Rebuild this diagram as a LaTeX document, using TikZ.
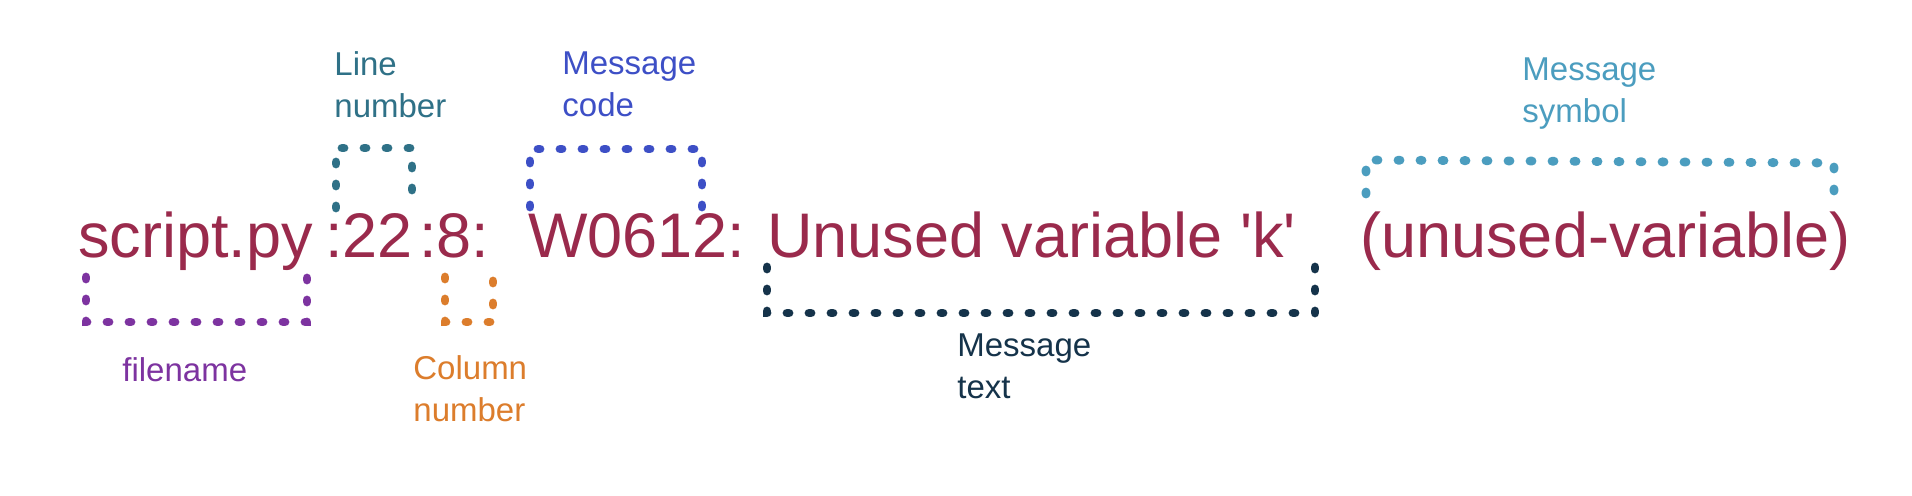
\documentclass[tikz,border=0pt]{standalone}
\usepackage{fontspec}
\setmainfont{Liberation Sans}
\definecolor{maintext}{HTML}{9A2A4C}
\definecolor{linenumc}{HTML}{2F7187}
\definecolor{msgcodec}{HTML}{3D4FC6}
\definecolor{msgsymc}{HTML}{4B9DBF}
\definecolor{filenamec}{HTML}{7D33A0}
\definecolor{columnc}{HTML}{DC7D2C}
\definecolor{msgtextc}{HTML}{15334A}
\begin{document}
\begin{tikzpicture}[x=0.5pt,y=-0.5pt,
  seg/.style={anchor=base west, inner sep=0pt, text=maintext, font=\fontsize{31.5}{36}\selectfont},
  lbl/.style={anchor=base west, inner sep=0pt, align=left, font=\fontsize{16.5}{21}\selectfont},
  dots/.style={line width=4.4pt, line cap=round, dash pattern=on 1pt off 10pt}]
\fill[white] (0,0) rectangle (1912,496);
\path[use as bounding box] (0,0) rectangle (1912,496);

% main message, split at the annotated parts
\node[seg] (fn)   at (78,258)   {script.py};
\node[seg] (ln)   at (325,258)  {:22};
\node[seg] (col)  at (419,258)  {:8:};
\node[seg] (code) at (528,258)  {W0612:};
\node[seg] (msg)  at (767,258)  {Unused variable \textquotesingle k\textquotesingle};
\node[seg] (sym)  at (1360,258) {(unused-variable)};

% labels (base = baseline of the last line)
\node[lbl, text=linenumc]  (lnl)   at (334,118) {Line\\number};
\node[lbl, text=msgcodec]  (codel) at (562,117) {Message\\code};
\node[lbl, text=msgsymc]   (syml)  at (1522,123) {Message\\symbol};
\node[lbl, text=filenamec] (fnl)   at (122,382) {filename};
\node[lbl, text=columnc]   (coll)  at (413,422) {Column\\number};
\node[lbl, text=msgtextc]  (msgl)  at (957,399) {Message\\text};

% dotted brackets
\draw[dots, filenamec] (86,277) -- (86,322) -- (307,322) -- (307,278);
\draw[dots, linenumc]  (336,208) -- (336,148) -- (412,148) -- (412,208);
\draw[dots, columnc]   (445,277) -- (445,322) -- (493,322) -- (493,277);
\draw[dots, msgcodec]  (530,207) -- (530,149) -- (702,149) -- (702,207);
\draw[dots, msgtextc]  (767,267) -- (767,313) -- (1315,313) -- (1315,265);
\draw[dots, msgsymc]   (1366,194) -- (1366,160) -- (1834,163) -- (1834,198);
\end{tikzpicture}
\end{document}
